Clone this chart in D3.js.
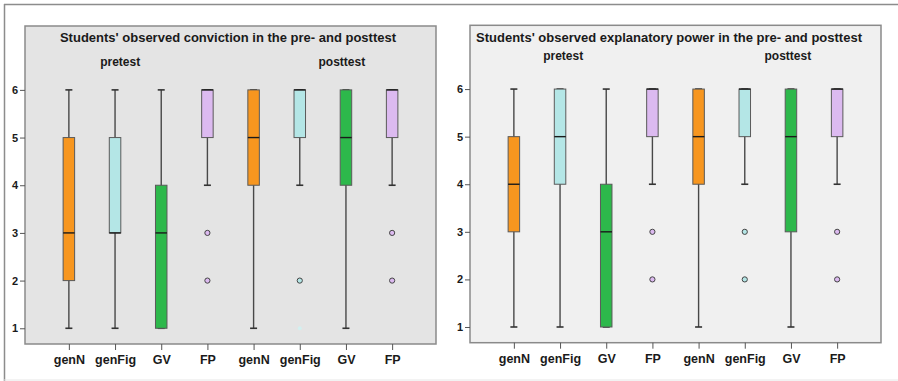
<!DOCTYPE html>
<html>
<head>
<meta charset="utf-8">
<script src="https://cdn.jsdelivr.net/npm/d3@7"></script>
<style>
  body { margin: 0; background: #fff; }
  svg text { font-family: "Liberation Sans", Arial, sans-serif; font-weight: bold; fill: #1a1a1a; }
</style>
</head>
<body>
<div id="chart"></div>
<script>
// categories repeated for pre- and posttest
var categories = ["genN", "genFig", "GV", "FP"];
var phases = ["pretest", "posttest"];
var yTicks = [1, 2, 3, 4, 5, 6];

// box stats per box: [min, q1, median, q3, max], order pre genN..FP then post genN..FP
var convictionBoxes = [
  [1, 2, 3, 5, 6], [1, 3, 3, 5, 6], [1, 1, 3, 4, 6], [4, 5, 6, 6, 6],
  [1, 4, 5, 6, 6], [4, 5, 6, 6, 6], [1, 4, 5, 6, 6], [4, 5, 6, 6, 6]
];
var convictionOutliers = [[], [], [], [3, 2], [], [2], [], [3, 2]];
var convictionFaint = [[], [], [], [], [], [1], [], []];

var explanatoryBoxes = [
  [1, 3, 4, 5, 6], [1, 4, 5, 6, 6], [1, 1, 3, 4, 6], [4, 5, 6, 6, 6],
  [1, 4, 5, 6, 6], [4, 5, 6, 6, 6], [1, 3, 5, 6, 6], [4, 5, 6, 6, 6]
];
var explanatoryOutliers = [[], [], [], [3, 2], [], [3, 2], [], [3, 2]];
var explanatoryFaint = [[], [], [], [], [], [], [], []];

var color = { genN: "#f7961f", genFig: "#b4e6e6", GV: "#2db84b", FP: "#dcbaf0" };

var W = 898, H = 381;
var svg = d3.select("#chart").append("svg")
    .attr("width", W).attr("height", H);

// outer frame
svg.append("line").attr("x1", 4).attr("x2", W).attr("y1", 4.5).attr("y2", 4.5)
    .attr("stroke", "#8c8c8c").attr("stroke-width", 1.5);
svg.append("line").attr("x1", 4.5).attr("x2", 4.5).attr("y1", 4).attr("y2", H)
    .attr("stroke", "#8c8c8c").attr("stroke-width", 1.5);
svg.append("line").attr("x1", 4).attr("x2", W).attr("y1", 380).attr("y2", 380)
    .attr("stroke", "#e6e6e6").attr("stroke-width", 1);

function Panel(opt){
    var x0 = opt.left, x1 = opt.right, y0 = opt.top, y1 = opt.bottom;
    var g = svg.append("g");

    var keys = d3.range(phases.length * categories.length);
    var x = d3.scalePoint().domain(keys).range([x0, x1]).padding(0.95);
    var y = d3.scaleLinear().domain([0.67, 7.34]).range([y1, y0]);
    var bw = 11.5;

    g.append("rect")
        .attr("x", x0).attr("y", y0)
        .attr("width", x1 - x0).attr("height", y1 - y0)
        .attr("fill", opt.bg)
        .attr("stroke", "#8a8a8a").attr("stroke-width", 1.5);

    // y axis
    var ya = g.append("g").attr("transform", "translate(" + x0 + ",0)")
        .call(d3.axisLeft(y).tickValues(yTicks).tickSize(5).tickPadding(2).tickFormat(d3.format("d")));
    ya.select(".domain").remove();
    ya.selectAll(".tick line").attr("stroke", "#555");
    ya.selectAll(".tick text").style("font-size", "11px").style("font-family", null).attr("fill", "#1a1a1a");

    // x axis
    var xa = g.append("g").attr("transform", "translate(0," + y1 + ")")
        .call(d3.axisBottom(x).tickSize(6).tickPadding(5)
            .tickFormat(function(d){ return categories[d % categories.length]; }));
    xa.select(".domain").remove();
    xa.selectAll(".tick line").attr("stroke", "#555");
    xa.selectAll(".tick text").style("font-size", "12.5px").style("font-family", null).attr("fill", "#1a1a1a");

    // titles
    g.append("text")
        .attr("x", opt.titleX).attr("y", 42)
        .attr("text-anchor", "middle")
        .style("font-size", "13px")
        .text(opt.title);
    phases.forEach(function(p, i){
        var mid = (x(i * categories.length + 1) + x(i * categories.length + 2)) / 2;
        g.append("text")
            .attr("x", mid + opt.phaseShift[i]).attr("y", opt.phaseY)
            .attr("text-anchor", "middle")
            .style("font-size", "12px")
            .text(p);
    });

    var boxes = g.selectAll(".box").data(opt.boxes).enter().append("g")
        .attr("class", "box")
        .attr("transform", function(d, i){ return "translate(" + x(i) + ",0)"; });

    // whiskers
    boxes.append("line")
        .attr("y1", function(d){ return y(d[0]); })
        .attr("y2", function(d){ return y(d[4]); })
        .attr("stroke", "#484848").attr("stroke-width", 1.4);
    boxes.selectAll(".cap").data(function(d){ return [d[0], d[4]]; }).enter().append("line")
        .attr("x1", -3.5).attr("x2", 3.5)
        .attr("y1", function(v){ return y(v); })
        .attr("y2", function(v){ return y(v); })
        .attr("stroke", "#333").attr("stroke-width", 1.6);

    boxes.append("rect")
        .attr("x", -bw / 2)
        .attr("y", function(d){ return y(d[3]); })
        .attr("width", bw)
        .attr("height", function(d){ return y(d[1]) - y(d[3]); })
        .attr("fill", function(d, i){ return color[categories[i % categories.length]]; })
        .attr("stroke", "#5a5a5a").attr("stroke-width", 1);

    boxes.append("line")
        .attr("x1", -bw / 2).attr("x2", bw / 2)
        .attr("y1", function(d){ return y(d[2]); })
        .attr("y2", function(d){ return y(d[2]); })
        .attr("stroke", "#1a1a1a").attr("stroke-width", 1.4);

    // outliers
    opt.outliers.forEach(function(list, i){
        g.selectAll(null).data(list).enter().append("circle")
            .attr("cx", x(i)).attr("cy", function(v){ return y(v); })
            .attr("r", 2.6)
            .attr("fill", color[categories[i % categories.length]])
            .attr("stroke", "#444").attr("stroke-width", 1);
    });
    opt.faint.forEach(function(list, i){
        g.selectAll(null).data(list).enter().append("circle")
            .attr("cx", x(i)).attr("cy", function(v){ return y(v); })
            .attr("r", 2)
            .attr("fill", "#d3f0f0");
    });
}

new Panel({
    left: 25, right: 436, top: 26, bottom: 344, bg: "#e4e4e4",
    title: "Students' observed conviction in the pre- and posttest", titleX: 228,
    phaseY: 66, phaseShift: [-18, 19],
    boxes: convictionBoxes, outliers: convictionOutliers, faint: convictionFaint
});
new Panel({
    left: 470, right: 881, top: 25.3, bottom: 342.7, bg: "#f0f0f0",
    title: "Students' observed explanatory power in the pre- and posttest", titleX: 669,
    phaseY: 60, phaseShift: [-20, 20],
    boxes: explanatoryBoxes, outliers: explanatoryOutliers, faint: explanatoryFaint
});
</script>
</body>
</html>
